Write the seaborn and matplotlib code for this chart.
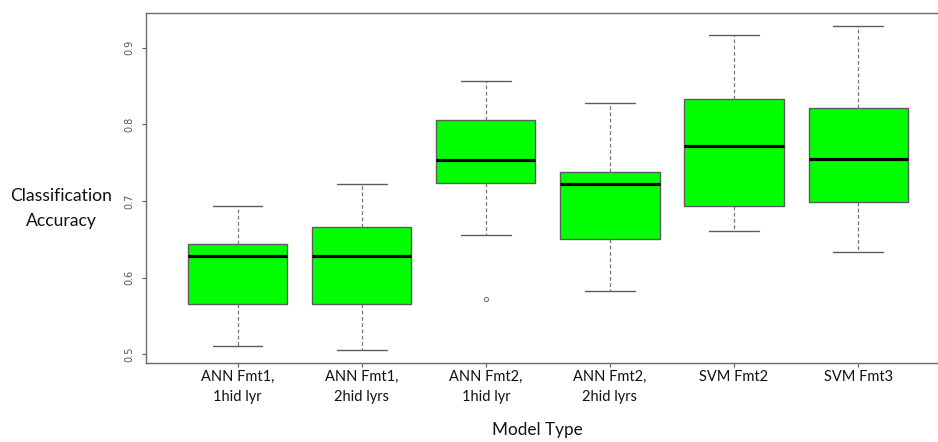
import matplotlib
matplotlib.use("Agg")
import matplotlib.pyplot as plt
import numpy as np
import pandas as pd
import seaborn as sns

# ---- data ----
models = ["ANN Fmt1,\n1hid lyr", "ANN Fmt1,\n2hid lyrs", "ANN Fmt2,\n1hid lyr",
          "ANN Fmt2,\n2hid lyrs", "SVM Fmt2", "SVM Fmt3"]
whisker_low = [0.511, 0.505, 0.656, 0.583, 0.661, 0.633]
q1 = [0.566, 0.566, 0.723, 0.650, 0.694, 0.699]
median = [0.628, 0.628, 0.753, 0.722, 0.772, 0.755]
q3 = [0.644, 0.666, 0.806, 0.738, 0.833, 0.821]
whisker_high = [0.694, 0.722, 0.856, 0.828, 0.917, 0.928]
outliers = [[], [], [0.572], [], [], []]
y_ticks = [0.5, 0.6, 0.7, 0.8, 0.9]

# build samples whose quartiles / whiskers reproduce the summaries above
rows = []
for m, lo, a, med, b, hi, out in zip(models, whisker_low, q1, median, q3, whisker_high, outliers):
    if out:
        vals = list(out) + [lo, a, a, med, b, b, hi, hi]
    else:
        vals = [lo, a, med, b, hi]
    rows += [(m, v) for v in vals]
df = pd.DataFrame(rows, columns=["model", "acc"])

sns.set_theme(style="white")
plt.rcParams["font.family"] = ["Lato", "DejaVu Sans"]

W, H = 938, 442
fig = plt.figure(figsize=(W / 100, H / 100), dpi=100)
ax_left, ax_right, ax_top, ax_bot = 145.7, 950.1, 13.3, 363.3
ax = fig.add_axes([ax_left / W, 1 - ax_bot / H, (ax_right - ax_left) / W, (ax_bot - ax_top) / H])

grey = "#5c5c5c"
sns.boxplot(data=df, x="model", y="acc", order=models, ax=ax,
            color="#00FF00", saturation=1, width=0.8, linecolor=grey, linewidth=1.0,
            whiskerprops=dict(linestyle=(0, (3, 2)), color="#777777", linewidth=0.9),
            capprops=dict(color=grey, linewidth=1.0),
            medianprops=dict(color="black", linewidth=2.3),
            flierprops=dict(marker="o", markersize=3.0, markerfacecolor="none",
                            markeredgecolor="#777777", markeredgewidth=0.8))

ax.set_xlim(-0.741, 5.741)
ax.set_ylim(0.4883, 0.9449)
ax.set_yticks(y_ticks)
ax.set_yticklabels([f"{t:.1f}" for t in y_ticks], rotation=90, va="center",
                   fontsize=7, color="#555555", family=["DejaVu Sans"])
ax.set_xticks(range(len(models)))
ax.set_xticklabels(models, fontsize=10.5, color="#111111", linespacing=1.5)
ax.tick_params(axis="y", direction="out", length=3, width=0.8, color=grey, pad=5, left=True)
ax.tick_params(axis="x", direction="out", length=3, width=0.8, color=grey, pad=2, bottom=True)
ax.set_xlabel("")
ax.set_ylabel("")
for s in ax.spines.values():
    s.set_visible(True)
    s.set_color("#6a6a6a")
    s.set_linewidth(1.0)

fig.text(61 / W, 1 - 208.5 / H, "Classification\nAccuracy", ha="center", va="center",
         fontsize=12.6, linespacing=1.7, color="#111111")
fig.text(537 / W, 1 - 430 / H, "Model Type", ha="center", va="center",
         fontsize=12.3, color="#111111")

fig.savefig("out.png", dpi=100)
